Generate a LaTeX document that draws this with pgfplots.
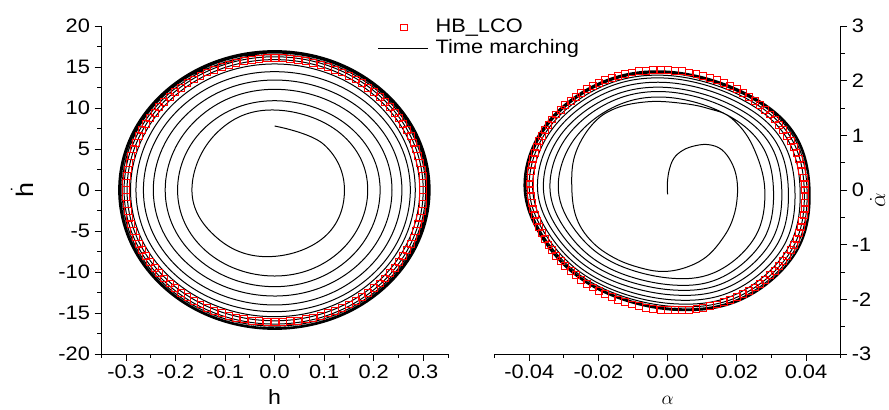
\documentclass[border=0pt]{standalone}
\usepackage{fontspec}
\setmainfont{Liberation Sans}[FakeStretch=1.12]
\usepackage{amsmath}
\usepackage{pgfplots}
\pgfplotsset{compat=1.18}

\pgfplotsset{
  phase/.style={
    scale only axis, height=246pt,
    tick align=outside, major tick length=5pt, minor tick length=3pt,
    tick style={black, line width=0.6pt},
    axis line style={black, line width=0.7pt},
    tick label style={font=\fontsize{14.6}{17}\selectfont},
    /pgf/number format/assume math mode=true,
    scaled ticks=false,
    legend image code/.code={\draw[##1] (0pt,0pt) -- (37.5pt,0pt);},
  },
  tm/.style={black, line width=0.75pt, smooth, tension=#1, forget plot},
  tm/.default=0.65,
  hb/.style={only marks, mark=square, mark size=2.6pt, red, mark options={line width=0.5pt}},
  hbimg/.style={legend image code/.code={\path[draw=none,fill=none] (0pt,-2.75pt) rectangle (37.5pt,2.75pt); \draw[##1] plot coordinates {(18.75pt,0pt)};}},
}

\begin{document}
\begin{tikzpicture}
% left: plunge
\begin{axis}[phase, name=L, at={(0pt,0pt)}, anchor=south west, width=260pt,
  xmin=-0.35, xmax=0.35, ymin=-20, ymax=20,
  axis x line*=bottom, axis y line*=left,
  xtick={-0.3,-0.2,-0.1,0,0.1,0.2,0.3},
  minor xtick={-0.35,-0.25,-0.15,-0.05,0.05,0.15,0.25,0.35},
  ytick={-20,-15,-10,-5,0,5,10,15,20},
  minor ytick={-17.5,-12.5,-7.5,-2.5,2.5,7.5,12.5,17.5},
  xticklabel style={/pgf/number format/fixed, /pgf/number format/fixed zerofill, /pgf/number format/precision=1},
  xlabel={h}, ylabel={$\dot{\text{h}}$},
  xlabel style={at={([yshift=-38pt]axis description cs:0.5,0)}, anchor=base, font=\fontsize{15.5}{18}\selectfont},
  ylabel style={at={([xshift=-51pt]axis description cs:0,0.5)}, anchor=base, font=\fontsize{18}{20}\selectfont},
  legend style={draw=none, fill=none, inner sep=0pt, outer sep=0pt,
    at={([xshift=207.5pt,yshift=251.75pt]axis description cs:0,0)}, anchor=north west,
    font=\fontsize{14.6}{17}\selectfont, row sep=2.25pt, column sep=5pt,
    nodes={inner sep=0pt, text height=10.5pt, text depth=3pt}},
  legend cell align=left,
]
\addlegendimage{hb, hbimg}
\addlegendentry{HB\_LCO}
\addlegendimage{black, line width=0.7pt}
\addlegendentry{Time marching}

\addplot[tm=0.68] coordinates {
(0.000,7.80) (0.100,5.52) (0.141,0) (0.100,-5.75) (-0.015,-8.13) (-0.118,-5.75) (-0.167,0) (-0.118,6.90)
(-0.005,9.76) (0.133,6.90) (0.188,0) (0.133,-7.42) (0,-10.49) (-0.139,-7.42) (-0.196,0) (-0.139,7.70)
(0,10.89) (0.151,7.70) (0.213,0) (0.151,-8.34) (0,-11.79) (-0.156,-8.34) (-0.221,0) (-0.156,8.68)
(0,12.28) (0.168,8.68) (0.237,0) (0.168,-9.14) (0,-12.93) (-0.173,-9.14) (-0.245,0) (-0.173,9.48)
(0,13.41) (0.182,9.48) (0.257,0) (0.182,-9.91) (0,-14.02) (-0.187,-9.91) (-0.265,0) (-0.187,10.20)
(0,14.43) (0.194,10.20) (0.274,0) (0.194,-10.49) (0,-14.84) (-0.198,-10.49) (-0.280,0) (-0.198,10.87)
(0,15.37) (0.201,10.87) (0.284,0) (0.201,-10.92) (0,-15.45) (-0.206,-10.92) (-0.291,0) (-0.206,11.24)
(0,15.90) (0.207,11.24) (0.293,0) (0.207,-11.28) (0,-15.95) (-0.211,-11.28) (-0.298,0) (-0.211,11.49)
(0,16.25) (0.212,11.49) (0.300,0) (0.212,-11.56) (0,-16.35) (-0.215,-11.56) (-0.304,0) (-0.215,11.67)
(0,16.50) (0.216,11.67) (0.305,0) (0.216,-11.74) (0,-16.60) (-0.218,-11.74) (-0.308,0) (-0.218,11.81)
(0,16.70) (0.218,11.81) (0.308,0) (0.218,-11.88) (0,-16.80) (-0.220,-11.88) (-0.311,0) (-0.220,11.88)
(0,16.80) (0.219,11.88) (0.310,0) (0.219,-11.95) (0,-16.90) (-0.221,-11.95) (-0.313,0) (-0.221,11.95)
(0,16.90) (0.221,11.95) (0.312,0) (0.221,-12.02) (0,-17.00) (-0.222,-12.02) (-0.314,0) (-0.222,11.98)
(0,16.95) (0.221,11.98) (0.313,0) (0.221,-12.02) (0,-17.00) (-0.223,-12.02) (-0.315,0) (-0.223,12.02)
(0,17.00) (0.222,12.02) (0.314,0) (0.222,-12.02) (0,-17.00) (-0.223,-12.02) (-0.315,0) (-0.223,12.02)
(0,17.00)
};

\addplot[hb, forget plot] coordinates {
(0,16.1) (.0157,16.08) (.0314,16.01) (.0469,15.90) (.0624,15.75) (.0776,15.55) (.0927,15.31) (.1075,15.03)
(.1220,14.71) (.1362,14.35) (.15,13.94) (.1634,13.50) (.1763,13.02) (.1888,12.51) (.2007,11.96) (.2121,11.38)
(.2229,10.77) (.2331,10.13) (.2427,9.46) (.2516,8.77) (.2598,8.05) (.2673,7.31) (.2741,6.55) (.2801,5.77)
(.2853,4.97) (.2898,4.17) (.2934,3.35) (.2963,2.52) (.2984,1.68) (.2996,0.84)
(.0157,-16.08) (.0314,-16.01) (.0469,-15.90) (.0624,-15.75) (.0776,-15.55) (.0927,-15.31) (.1075,-15.03)
(.1220,-14.71) (.1362,-14.35) (.15,-13.94) (.1634,-13.50) (.1763,-13.02) (.1888,-12.51) (.2007,-11.96) (.2121,-11.38)
(.2229,-10.77) (.2331,-10.13) (.2427,-9.46) (.2516,-8.77) (.2598,-8.05) (.2673,-7.31) (.2741,-6.55) (.2801,-5.77)
(.2853,-4.97) (.2898,-4.17) (.2934,-3.35) (.2963,-2.52) (.2984,-1.68) (.2996,-0.84) (.30,0)
(0,-16.1) (-.0157,-16.08) (-.0314,-16.01) (-.0469,-15.90) (-.0624,-15.75) (-.0776,-15.55) (-.0927,-15.31) (-.1075,-15.03)
(-.1220,-14.71) (-.1362,-14.35) (-.15,-13.94) (-.1634,-13.50) (-.1763,-13.02) (-.1888,-12.51) (-.2007,-11.96) (-.2121,-11.38)
(-.2229,-10.77) (-.2331,-10.13) (-.2427,-9.46) (-.2516,-8.77) (-.2598,-8.05) (-.2673,-7.31) (-.2741,-6.55) (-.2801,-5.77)
(-.2853,-4.97) (-.2898,-4.17) (-.2934,-3.35) (-.2963,-2.52) (-.2984,-1.68) (-.2996,-0.84)
(-.0157,16.08) (-.0314,16.01) (-.0469,15.90) (-.0624,15.75) (-.0776,15.55) (-.0927,15.31) (-.1075,15.03)
(-.1220,14.71) (-.1362,14.35) (-.15,13.94) (-.1634,13.50) (-.1763,13.02) (-.1888,12.51) (-.2007,11.96) (-.2121,11.38)
(-.2229,10.77) (-.2331,10.13) (-.2427,9.46) (-.2516,8.77) (-.2598,8.05) (-.2673,7.31) (-.2741,6.55) (-.2801,5.77)
(-.2853,4.97) (-.2898,4.17) (-.2934,3.35) (-.2963,2.52) (-.2984,1.68) (-.2996,0.84) (-.30,0)
};
\end{axis}

% right: pitch
\begin{axis}[phase, name=R, at={(295.05pt,0pt)}, anchor=south west, width=259.4pt,
  xmin=-0.05, xmax=0.05, ymin=-3, ymax=3,
  axis x line*=bottom, axis y line*=right,
  xtick={-0.04,-0.02,0,0.02,0.04},
  minor xtick={-0.05,-0.03,-0.01,0.01,0.03,0.05},
  ytick={-3,-2,-1,0,1,2,3},
  minor ytick={-2.5,-1.5,-0.5,0.5,1.5,2.5},
  xticklabel style={/pgf/number format/fixed, /pgf/number format/fixed zerofill, /pgf/number format/precision=2},
  xlabel={$\alpha$}, ylabel={$\dot{\alpha}$},
  xlabel style={at={([yshift=-38pt]axis description cs:0.5,0)}, anchor=base, font=\fontsize{15.5}{18}\selectfont},
  ylabel style={at={([xshift=33.5pt,yshift=-7.5pt]axis description cs:1,0.5)}, anchor=base, font=\fontsize{18}{20}\selectfont},
]
\addplot[tm=0.63] coordinates {
(0.0000,-0.08) (-0.0001,0.10) (0.0004,0.35) (0.0018,0.58) (0.0045,0.73) (0.0080,0.81) (0.0118,0.83) (0.0156,0.74) (0.0185,0.50)
(0.0200,0.20) (0.0201,-0.15) (0.0190,-0.50)
(0.0166,-0.82) (0.0118,-1.19) (0.0060,-1.40) (-0.0008,-1.49) (-0.0075,-1.43) (-0.0152,-1.25) (-0.0219,-0.945) (-0.0263,-0.52)
(-0.0277,0.03) (-0.0268,0.64) (-0.0219,1.19) (-0.0152,1.49)
(-0.0056,1.615) (0.0041,1.586) (0.0118,1.49) (0.0185,1.31) (0.0246,0.805) (0.0281,0) (0.0254,-0.844) (0.0148,-1.472) (0.0015,-1.616) (-0.0151,-1.348) (-0.0262,-0.781) (-0.0316,0) (-0.0277,0.864) (-0.0161,1.501)
(-0.0015,1.700) (0.0151,1.440) (0.0268,0.855) (0.0306,0) (0.0277,-0.907) (0.0161,-1.583) (0.0015,-1.738) (-0.0163,-1.449) (-0.0282,-0.839) (-0.0340,0) (-0.0298,0.914) (-0.0173,1.589)
(-0.0015,1.800) (0.0162,1.525) (0.0289,0.905) (0.0330,0) (0.0298,-0.955) (0.0174,-1.666) (0.0015,-1.829) (-0.0172,-1.525) (-0.0298,-0.883) (-0.0359,0) (-0.0315,0.955) (-0.0182,1.660)
(-0.0015,1.880) (0.0172,1.592) (0.0306,0.946) (0.0349,0) (0.0316,-1.002) (0.0184,-1.749) (0.0015,-1.920) (-0.0180,-1.601) (-0.0312,-0.927) (-0.0376,0) (-0.0330,1.001) (-0.0191,1.740)
(-0.0015,1.970) (0.0181,1.669) (0.0322,0.991) (0.0368,0) (0.0333,-1.049) (0.0194,-1.831) (0.0015,-2.010) (-0.0186,-1.676) (-0.0324,-0.971) (-0.0390,0) (-0.0342,1.041) (-0.0198,1.810)
(-0.0015,2.050) (0.0188,1.736) (0.0336,1.031) (0.0383,0) (0.0346,-1.086) (0.0202,-1.895) (0.0015,-2.080) (-0.0191,-1.735) (-0.0332,-1.005) (-0.0400,0) (-0.0351,1.067) (-0.0203,1.854)
(-0.0015,2.100) (0.0194,1.779) (0.0346,1.056) (0.0395,0) (0.0357,-1.112) (0.0208,-1.940) (0.0015,-2.130) (-0.0195,-1.776) (-0.0338,-1.029) (-0.0407,0) (-0.0357,1.087) (-0.0207,1.890)
(-0.0015,2.140) (0.0198,1.813) (0.0353,1.076) (0.0403,0) (0.0364,-1.130) (0.0212,-1.972) (0.0015,-2.165) (-0.0196,-1.806) (-0.0341,-1.046) (-0.0411,0) (-0.0360,1.097) (-0.0209,1.907)
(-0.0015,2.160) (0.0201,1.830) (0.0357,1.086) (0.0408,0) (0.0369,-1.141) (0.0215,-1.991) (0.0015,-2.185) (-0.0197,-1.822) (-0.0343,-1.055) (-0.0413,0) (-0.0362,1.105) (-0.0210,1.921)
(-0.0015,2.175) (0.0202,1.842) (0.0360,1.094) (0.0411,0) (0.0372,-1.146) (0.0217,-2.000) (0.0015,-2.195) (-0.0198,-1.831) (-0.0344,-1.060) (-0.0414,0) (-0.0363,1.107) (-0.0210,1.925)
(-0.0015,2.180) (0.0203,1.846) (0.0361,1.097) (0.0412,0) (0.0372,-1.148) (0.0217,-2.004) (0.0015,-2.200) (-0.0198,-1.835) (-0.0344,-1.063) (-0.0415,0) (-0.0364,1.107) (-0.0211,1.925)
(-0.0015,2.180) (0.0203,1.846) (0.0361,1.097) (0.0412,0) (0.0372,-1.148) (0.0217,-2.004) (0.0015,-2.200) (-0.0198,-1.835) (-0.0344,-1.063) (-0.0415,0) (-0.0364,1.107) (-0.0211,1.925)
(-0.0015,2.180)
};

\addplot[hb, forget plot] coordinates {
(0,2.197) (.0021,2.188) (.0042,2.173) (.0062,2.152) (.0083,2.125) (.0103,2.092) (.0123,2.054) (.0143,2.010)
(.0162,1.960) (.0181,1.905) (.0199,1.845) (.0217,1.780) (.0234,1.710) (.0251,1.635) (.0266,1.556) (.0281,1.472)
(.0296,1.384) (.0309,1.293) (.0322,1.198) (.0334,1.100) (.0345,.999) (.0355,.895) (.0364,.788) (.0372,.680)
(.0379,.569) (.0384,.457) (.0389,.344) (.0393,.230) (.0396,.115) (.0397,0)
(.0398,-.115) (.0397,-.230) (.0396,-.344) (.0393,-.457) (.0389,-.569) (.0384,-.680) (.0379,-.788) (.0372,-.895)
(.0364,-.999) (.0355,-1.100) (.0345,-1.198) (.0334,-1.293) (.0322,-1.384) (.0309,-1.472) (.0296,-1.556) (.0281,-1.635)
(.0266,-1.710) (.0251,-1.780) (.0234,-1.845) (.0217,-1.905) (.0199,-1.960) (.0181,-2.010) (.0162,-2.054) (.0143,-2.092)
(.0123,-2.125) (.0103,-2.152) (.0083,-2.173) (.0062,-2.188) (.0042,-2.197) (.0021,-2.200)
(0,-2.197) (-.0021,-2.188) (-.0042,-2.173) (-.0062,-2.152) (-.0083,-2.125) (-.0103,-2.092) (-.0123,-2.054) (-.0143,-2.010)
(-.0162,-1.960) (-.0181,-1.905) (-.0199,-1.845) (-.0217,-1.780) (-.0234,-1.710) (-.0251,-1.635) (-.0266,-1.556) (-.0281,-1.472)
(-.0296,-1.384) (-.0309,-1.293) (-.0322,-1.198) (-.0334,-1.100) (-.0345,-.999) (-.0355,-.895) (-.0364,-.788) (-.0372,-.680)
(-.0379,-.569) (-.0384,-.457) (-.0389,-.344) (-.0393,-.230) (-.0396,-.115) (-.0397,0)
(-.0398,.115) (-.0397,.230) (-.0396,.344) (-.0393,.457) (-.0389,.569) (-.0384,.680) (-.0379,.788) (-.0372,.895)
(-.0364,.999) (-.0355,1.100) (-.0345,1.198) (-.0334,1.293) (-.0322,1.384) (-.0309,1.472) (-.0296,1.556) (-.0281,1.635)
(-.0266,1.710) (-.0251,1.780) (-.0234,1.845) (-.0217,1.905) (-.0199,1.960) (-.0181,2.010) (-.0162,2.054) (-.0143,2.092)
(-.0123,2.125) (-.0103,2.152) (-.0083,2.173) (-.0062,2.188) (-.0042,2.197) (-.0021,2.200)
};
\end{axis}
\pgfresetboundingbox
\path[use as bounding box] (-75.98pt,-42pt) rectangle (590.77pt,265.5pt);
\end{tikzpicture}
\end{document}
